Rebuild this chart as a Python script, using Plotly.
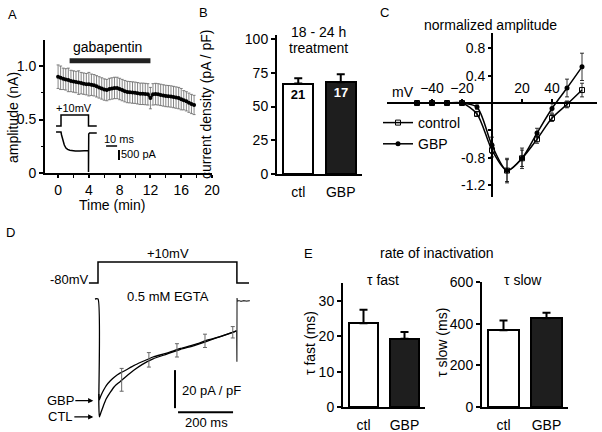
import plotly.graph_objects as go

W, H = 602, 432
FONT = "Liberation Sans, Arial, sans-serif"

# ---------------- DATA ----------------
# Panel A: amplitude over time
a_time = [0, 0.33, 0.67, 1.0, 1.33, 1.67, 2.0, 2.33, 2.67, 3.0, 3.33, 3.67, 4.0, 4.33, 4.67,
          5.0, 5.33, 5.67, 6.0, 6.33, 6.67, 7.0, 7.33, 7.67, 8.0, 8.33, 8.67, 9.0, 9.33, 9.67,
          10.0, 10.33, 10.67, 11.0, 11.33, 11.67, 12.0, 12.33, 12.67, 13.0, 13.33, 13.67, 14.0,
          14.33, 14.67, 15.0, 15.33, 15.67, 16.0, 16.33, 16.67, 17.0, 17.33, 17.67]
a_amp = [0.90, 0.89, 0.88, 0.875, 0.87, 0.86, 0.855, 0.85, 0.845, 0.84, 0.835, 0.83, 0.83,
         0.825, 0.82, 0.81, 0.80, 0.79, 0.78, 0.775, 0.785, 0.79, 0.795, 0.795, 0.785, 0.775,
         0.765, 0.757, 0.755, 0.752, 0.75, 0.745, 0.74, 0.74, 0.738, 0.735, 0.70, 0.735, 0.738,
         0.735, 0.73, 0.725, 0.72, 0.718, 0.715, 0.71, 0.705, 0.70, 0.69, 0.68, 0.67, 0.657,
         0.645, 0.636]
a_err = [0.11, 0.11, 0.10, 0.10, 0.11, 0.10, 0.10, 0.10, 0.11, 0.10, 0.10, 0.10, 0.11, 0.10,
         0.10, 0.10, 0.10, 0.10, 0.10, 0.10, 0.10, 0.10, 0.10, 0.10, 0.10, 0.10, 0.10, 0.10,
         0.10, 0.10, 0.10, 0.10, 0.10, 0.10, 0.10, 0.10, 0.10, 0.10, 0.10, 0.10, 0.10, 0.10,
         0.10, 0.10, 0.10, 0.10, 0.10, 0.10, 0.10, 0.09, 0.09, 0.09, 0.09, 0.09]
gbp_period = [1.5, 12.0]
gbp_level = 1.05
a_xticks = [0, 4, 8, 12, 16, 20]
a_yticks = [0, 0.5, 1.0]
a_ytext = ["0", "0.5", "1.0"]

# Panel A inset: example traces (ms, pA, mV)
ins_v_t = [-4.5, 0, 0, 25, 25, 32.5]
ins_v = [-80, -80, 10, 10, -80, -80]
ins_i_t = [-4.5, 0, 0.5, 1.5, 3, 4.5, 6, 8, 10, 13, 17, 21, 25, 25, 25.2, 26, 32.5]
ins_i = [0, 0, -150, -400, -650, -800, -870, -910, -930, -945, -950, -945, -930, -2000,
         -100, -50, -50]
ins_scale_ms = 10
ins_scale_pa = 500

# Panel B: current density
b_cats = ["ctl", "GBP"]
b_vals = [67, 68]
b_err = [4, 6]
b_n = ["21", "17"]
b_yticks = [0, 25, 50, 75, 100]

# Panel C: normalized IV
c_mv = [-50, -40, -30, -20, -10, 0, 10, 20, 30, 40, 50, 60]
c_ctl = [0, 0, 0, 0, -0.16, -0.69, -0.99, -0.81, -0.53, -0.22, -0.02, 0.19]
c_ctl_err = [0.01, 0.01, 0.01, 0.01, 0.03, 0.1, 0.16, 0.12, 0.06, 0.05, 0.05, 0.1]
c_gbp = [0, 0, 0, 0, -0.06, -0.62, -0.99, -0.81, -0.44, -0.08, 0.22, 0.53]
c_gbp_err = [0.01, 0.01, 0.01, 0.01, 0.03, 0.12, 0.18, 0.15, 0.07, 0.07, 0.13, 0.2]
c_xticks = [-40, -20, 20, 40]
c_yticks = [-1.2, -0.8, -0.4, 0.4, 0.8]
c_ytext = ["-1.2", "-0.8", "", "0.4", "0.8"]

# Panel D: averaged current traces (ms, pA/pF)
d_v_t = [-33, 0, 0, 505, 505, 549]
d_v = [-80, -80, 10, 10, -80, -80]
d_t = [-11, 0, 3, 5, 10, 20, 30, 45, 60, 80, 100, 130, 160, 200, 250, 300, 350, 400, 450, 504]
d_ctl = [0, 0, -55, -62, -60, -56, -52.5, -49, -46, -43.5, -41, -37.5, -34.5, -31.5, -29,
         -26.5, -24.5, -22, -19.5, -16.8]
d_gbp_t = [3, 5, 10, 20, 30, 45, 60, 80, 100, 130, 160, 200, 250, 300, 350, 400, 450, 504]
d_gbp = [-50, -53, -51, -48, -45.5, -43, -41, -39, -37.5, -35, -33, -30.5, -28.5, -26, -24,
         -21.5, -19.5, -16.8]
d_tail_t = [504, 505, 505.5, 507, 512, 520, 530, 540, 552]
d_tail = [-16.8, -33, 0.5, -1.2, -0.8, -1.2, -0.9, -1.1, -0.9]
d_err_t = [86, 185, 287, 389, 490]
d_err_mean = [-42.5, -32, -27, -22, -17.5]
d_err_sd = [6, 3.8, 3.5, 3.5, 3]
d_scale_ms = 200
d_scale_pa = 20

# Panel E: inactivation time constants
e_cats = ["ctl", "GBP"]
e_fast = [23.7, 19.3]
e_fast_err = [3.8, 1.9]
e_slow = [370, 428]
e_slow_err = [46, 26]

# ---------------- HELPERS ----------------
def dx(p0, p1):
    return [p0 / W, p1 / W]

def dy(top, bottom):
    return [1 - bottom / H, 1 - top / H]

def px(x):
    return x / W

def py(y):
    return 1 - y / H

fig = go.Figure()
ann = []

def text(x, y, s, size=14, **kw):
    d = dict(x=px(x), y=py(y), xref="paper", yref="paper", text=s, showarrow=False,
             font=dict(size=size, family=FONT, color="black"), xanchor="center", yanchor="middle")
    d.update(kw)
    ann.append(d)

AX = dict(showline=True, linecolor="black", linewidth=2, ticks="outside", ticklen=4,
          tickwidth=1.5, tickcolor="black", showgrid=False, zeroline=False, automargin=False,
          tickfont=dict(size=14, family=FONT, color="black"))
HIDE = dict(visible=False, showgrid=False, zeroline=False, automargin=False)

# ---------------- PANEL A ----------------
fig.add_trace(go.Scatter(x=a_time, y=a_amp, mode="lines+markers", xaxis="x", yaxis="y",
                         line=dict(color="black", width=2), marker=dict(size=4, color="black"),
                         error_y=dict(type="data", array=a_err, color="#666", thickness=0.8, width=1.5),
                         showlegend=False))
fig.add_trace(go.Scatter(x=gbp_period, y=[gbp_level, gbp_level], mode="lines", xaxis="x", yaxis="y",
                         line=dict(color="#222", width=5), showlegend=False))
layout = dict(
    xaxis=dict(AX, domain=dx(45, 212), range=[-1.7, 20], anchor="y", tickvals=a_xticks, ticklen=3,
               minor=dict(dtick=2, ticks="outside", ticklen=2.5, tickcolor="black", tickwidth=1)),
    yaxis=dict(AX, domain=dy(40, 173), range=[0, 1.243], anchor="x", tickvals=a_yticks,
               ticktext=a_ytext,
               minor=dict(dtick=0.25, ticks="outside", ticklen=2.5, tickcolor="black", tickwidth=1)),
)
text(107, 47, "gabapentin")
text(112, 205, "Time (min)")
text(13, 118, "amplitude (nA)", textangle=-90)
text(12, 15, "A", size=13)

# inset
fig.add_trace(go.Scatter(x=ins_i_t, y=ins_i, mode="lines", xaxis="x2", yaxis="y2",
                         line=dict(color="black", width=1.5), showlegend=False))
fig.add_trace(go.Scatter(x=ins_v_t, y=ins_v, mode="lines", xaxis="x2", yaxis="y3",
                         line=dict(color="black", width=1.5), showlegend=False))
sb_t0, sb_i0 = 41, -700
fig.add_trace(go.Scatter(x=[sb_t0, sb_t0 + ins_scale_ms], y=[sb_i0, sb_i0], mode="lines",
                         xaxis="x2", yaxis="y2", line=dict(color="black", width=1.5), showlegend=False))
fig.add_trace(go.Scatter(x=[52.7, 52.7], y=[-900, -900 - ins_scale_pa], mode="lines",
                         xaxis="x2", yaxis="y2", line=dict(color="black", width=2), showlegend=False))
layout["xaxis2"] = dict(HIDE, domain=dx(50, 160), range=[-10, 90], anchor="y2")
layout["yaxis2"] = dict(HIDE, domain=dy(105, 180), range=[-2400, 1350], anchor="x2")
layout["yaxis3"] = dict(HIDE, domain=dy(105, 180), range=[-522, 91.8], anchor="x2", overlaying="y2")
text(74, 108, "+10mV", size=11)
text(119, 139, "10 ms", size=11)
text(139, 154, "500 pA", size=11)

# ---------------- PANEL B ----------------
fig.add_trace(go.Bar(x=b_cats, y=b_vals, xaxis="x4", yaxis="y4", width=0.7,
                     marker=dict(color=["white", "#1e1e1e"], line=dict(color="black", width=2)),
                     error_y=dict(type="data", symmetric=False, array=b_err, arrayminus=[0, 0],
                                  color="black", thickness=2, width=4),
                     text=b_n, textposition="inside", insidetextanchor="end",
                     textfont=dict(size=13, family=FONT, color=["black", "white"]),
                     texttemplate="<b>%{text}</b>", showlegend=False))
layout["xaxis4"] = dict(AX, domain=dx(277, 362), range=[-0.5, 1.5], anchor="y4", ticks="",
                        ticklabelstandoff=4)
layout["yaxis4"] = dict(AX, domain=dy(35, 174), range=[0, 103], anchor="x4", tickvals=b_yticks)
text(318, 32, "18 - 24 h")
text(318, 48, "treatment")
text(206, 105, "current density (pA / pF)", textangle=-90)
text(203, 12, "B", size=13)

# ---------------- PANEL C ----------------
fig.add_trace(go.Scatter(x=c_mv, y=c_ctl, mode="lines+markers", xaxis="x5", yaxis="y5",
                         name="control", line=dict(color="black", width=1.5, shape="spline", smoothing=0.8),
                         marker=dict(symbol="square-open", size=5, color="black", line=dict(width=1)),
                         error_y=dict(type="data", array=c_ctl_err, color="black", thickness=0.8, width=2)))
fig.add_trace(go.Scatter(x=c_mv, y=c_gbp, mode="lines+markers", xaxis="x5", yaxis="y5",
                         name="GBP", line=dict(color="black", width=1.5, shape="spline", smoothing=0.8),
                         marker=dict(symbol="circle", size=5, color="black"),
                         error_y=dict(type="data", array=c_gbp_err, color="black", thickness=0.8, width=2)))
layout["xaxis5"] = dict(AX, domain=dx(387, 597), range=[-70, 70], anchor="free", position=py(103),
                        side="top", tickvals=c_xticks, ticklen=3)
layout["yaxis5"] = dict(AX, domain=dy(33, 197), range=[-1.377, 1.026], anchor="free",
                        position=px(492), tickvals=c_yticks, ticktext=c_ytext, ticklen=3)
text(403, 92, "mV")
text(490, 25, "normalized amplitude")
text(384, 12, "C", size=13)

# ---------------- PANEL D ----------------
fig.add_trace(go.Scatter(x=d_v_t, y=d_v, mode="lines", xaxis="x7", yaxis="y7",
                         line=dict(color="black", width=1.5), showlegend=False))
fig.add_trace(go.Scatter(x=d_t, y=d_ctl, mode="lines", xaxis="x6", yaxis="y6",
                         line=dict(color="black", width=1.3, shape="spline", smoothing=0.6), showlegend=False))
fig.add_trace(go.Scatter(x=d_gbp_t, y=d_gbp, mode="lines", xaxis="x6", yaxis="y6",
                         line=dict(color="black", width=1.3, shape="spline", smoothing=0.6), showlegend=False))
fig.add_trace(go.Scatter(x=d_tail_t, y=d_tail, mode="lines", xaxis="x6", yaxis="y6",
                         line=dict(color="#333", width=1.2), showlegend=False))
fig.add_trace(go.Scatter(x=d_err_t, y=d_err_mean, mode="markers", xaxis="x6", yaxis="y6",
                         marker=dict(size=1, color="#666"),
                         error_y=dict(type="data", array=d_err_sd, color="#666", thickness=1, width=2),
                         showlegend=False))
fig.add_trace(go.Scatter(x=[280, 280], y=[-37.4, -37.4 - d_scale_pa], mode="lines", xaxis="x6", yaxis="y6",
                         line=dict(color="black", width=2), showlegend=False))
fig.add_trace(go.Scatter(x=[291, 291 + d_scale_ms], y=[-59.5, -59.5], mode="lines", xaxis="x6", yaxis="y6",
                         line=dict(color="black", width=2), showlegend=False))
layout["xaxis6"] = dict(HIDE, domain=dx(40, 260), range=[-210.9, 589], anchor="y6")
layout["yaxis6"] = dict(HIDE, domain=dy(290, 430), range=[-68.9, 4.74], anchor="x6")
layout["xaxis7"] = dict(HIDE, domain=dx(40, 260), range=[-210.9, 589], anchor="y7")
layout["yaxis7"] = dict(HIDE, domain=dy(250, 290), range=[-110, 61.4], anchor="x7")
text(168, 253, "+10mV", size=13)
text(69, 279, "-80mV", size=13)
text(168, 296, "0.5 mM EGTA", size=13)
text(212, 390, "20 pA / pF", size=13)
text(206, 422, "200 ms", size=13)
text(10, 232, "D", size=13)
for lab, yv in [("GBP", -53.5), ("CTL", -62)]:
    ann.append(dict(x=-17, y=yv, xref="x6", yref="y6", text=lab, showarrow=True, ax=-33, ay=0,
                    arrowhead=2, arrowsize=0.8, arrowwidth=1.3, arrowcolor="black",
                    font=dict(size=13, family=FONT, color="black")))

# ---------------- PANEL E ----------------
fig.add_trace(go.Bar(x=e_cats, y=e_fast, xaxis="x8", yaxis="y8", width=0.71,
                     marker=dict(color=["white", "#1e1e1e"], line=dict(color="black", width=2)),
                     error_y=dict(type="data", symmetric=False, array=e_fast_err, arrayminus=[0, 0],
                                  color="black", thickness=2, width=4), showlegend=False))
fig.add_trace(go.Bar(x=e_cats, y=e_slow, xaxis="x9", yaxis="y9", width=0.71,
                     marker=dict(color=["white", "#1e1e1e"], line=dict(color="black", width=2)),
                     error_y=dict(type="data", symmetric=False, array=e_slow_err, arrayminus=[0, 0],
                                  color="black", thickness=2, width=4), showlegend=False))
layout["xaxis8"] = dict(AX, domain=dx(343, 425), range=[-0.5, 1.5], anchor="y8", ticks="",
                        ticklabelstandoff=4)
layout["yaxis8"] = dict(AX, domain=dy(283, 407), range=[0, 35.1], anchor="x8", tickvals=[0, 10, 20, 30])
layout["xaxis9"] = dict(AX, domain=dx(482, 568), range=[-0.5, 1.5], anchor="y9", ticks="",
                        ticklabelstandoff=4)
layout["yaxis9"] = dict(AX, domain=dy(282, 407), range=[0, 602], anchor="x9", tickvals=[0, 200, 400, 600])
text(437, 253, "rate of inactivation")
text(383, 280, "τ fast")
text(523, 280, "τ slow")
text(310, 343, "τ fast (ms)", textangle=-90)
text(442, 343, "τ slow (ms)", textangle=-90)
text(308, 254, "E", size=13)

fig.update_layout(
    template="none",
    width=W, height=H, margin=dict(l=0, r=0, t=0, b=0, pad=0, autoexpand=False),
    paper_bgcolor="white", plot_bgcolor="rgba(0,0,0,0)",
    font=dict(family=FONT, size=14, color="black"),
    annotations=ann, bargap=0,
    legend=dict(x=px(378), y=py(107), xanchor="left", yanchor="top",
                bgcolor="rgba(0,0,0,0)", font=dict(size=14, family=FONT), itemwidth=30,
                tracegroupgap=0),
    **layout,
)
fig.write_html("out.html", config={"displayModeBar": False},
               post_script="document.body.style.margin='0px';")
